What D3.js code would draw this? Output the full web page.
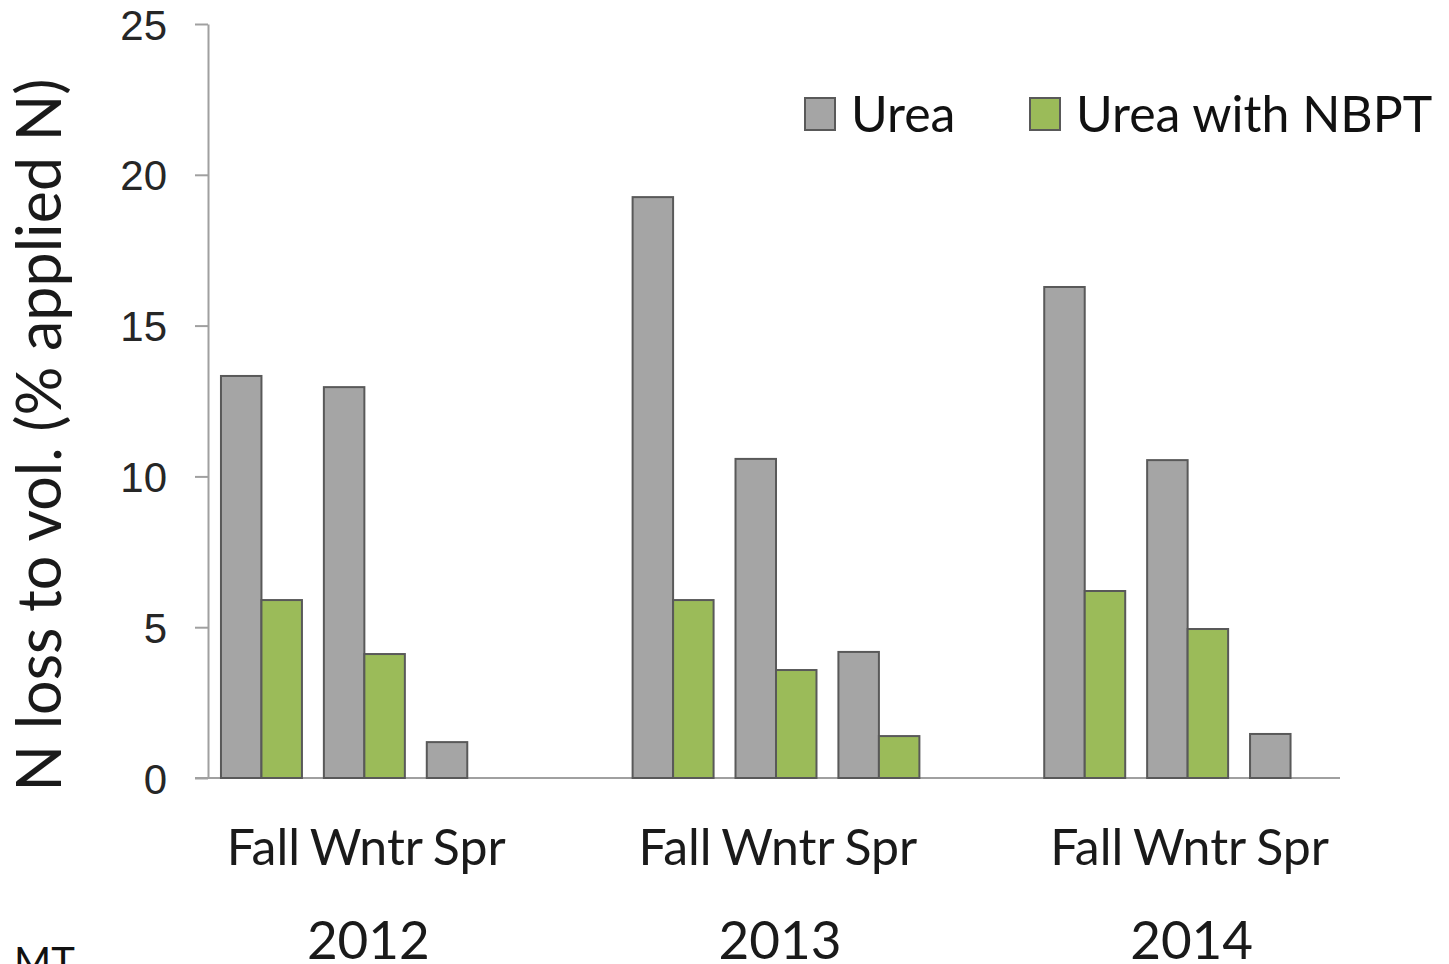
<!DOCTYPE html>
<html>
<head>
<meta charset="utf-8">
<script src="https://cdn.jsdelivr.net/npm/d3@7"></script>
<style>
  body { margin: 0; background: #fff; }
  svg { display: block; font-family: Lato, "Open Sans", sans-serif; }
</style>
</head>
<body>
<svg id="chart" width="1449" height="964"></svg>
<script>
const years = ["2012", "2013", "2014"];
const seasons = ["Fall", "Wntr", "Spr"];
const seriesNames = ["Urea", "Urea with NBPT"];
// one value per year x season, in order
const urea = [13.33, 12.96, 1.19, 19.26, 10.58, 4.18, 16.28, 10.54, 1.46];
const ureaNbpt = [5.9, 4.11, null, 5.9, 3.58, 1.39, 6.2, 4.94, null];
const yTicks = [0, 5, 10, 15, 20, 25];

const colors = ["#a5a5a5", "#9bbb59"];

const svg = d3.select("#chart");
const plotLeft = 208, plotRight = 1340, plotTop = 24, plotBottom = 778;

// slots: three seasons per year, with an empty slot between years
let slots = [];
years.forEach(function (yr, i) {
  seasons.forEach(function (s) { slots.push(yr + "-" + s); });
  if (i < years.length - 1) slots.push("gap-" + yr);
});

const x = d3.scaleBand()
  .domain(slots)
  .range([plotLeft, plotRight + 4])
  .paddingInner(0.213)
  .paddingOuter(0.126);

const xSeries = d3.scaleBand()
  .domain(seriesNames)
  .range([0, x.bandwidth()]);

const y = d3.scaleLinear().domain([0, 25]).range([plotBottom, plotTop]);

let rows = [];
years.forEach(function (yr, yi) {
  seasons.forEach(function (s, si) {
    const k = yi * seasons.length + si;
    rows.push({ slot: yr + "-" + s, series: seriesNames[0], value: urea[k], c: colors[0] });
    if (ureaNbpt[k] != null)
      rows.push({ slot: yr + "-" + s, series: seriesNames[1], value: ureaNbpt[k], c: colors[1] });
  });
});

// y axis
const yAxis = svg.append("g")
  .attr("transform", "translate(" + plotLeft + ",0)")
  .call(d3.axisLeft(y).tickValues(yTicks).tickSize(13).tickPadding(28).tickSizeOuter(0));
yAxis.select(".domain").attr("stroke", "#a0a0a0").attr("stroke-width", 2);
yAxis.selectAll(".tick line").attr("stroke", "#a0a0a0").attr("stroke-width", 2);
yAxis.selectAll(".tick text")
  .attr("fill", "#262626")
  .style("font-size", "42px")
  .attr("dy", "0.36em");

// x baseline
svg.append("line")
  .attr("x1", plotLeft - 13).attr("x2", plotRight)
  .attr("y1", y(0)).attr("y2", y(0))
  .attr("stroke", "#a0a0a0").attr("stroke-width", 2);

// bars
svg.append("g")
  .selectAll("rect")
  .data(rows)
  .join("rect")
  .attr("x", function (d) { return x(d.slot) + xSeries(d.series); })
  .attr("y", function (d) { return y(d.value); })
  .attr("width", xSeries.bandwidth())
  .attr("height", function (d) { return y(0) - y(d.value); })
  .attr("fill", function (d) { return d.c; })
  .attr("stroke", "#595959")
  .attr("stroke-width", 2);

// season labels
svg.append("g")
  .selectAll("text")
  .data(slots.filter(function (s) { return s.indexOf("gap") < 0; }))
  .join("text")
  .attr("x", function (d) { return x(d) + x.bandwidth() / 2 + 2; })
  .attr("y", 865)
  .attr("text-anchor", "middle")
  .attr("fill", "#1a1a1a")
  .style("font-size", "50px")
  .text(function (d) { return d.split("-")[1]; });

// year labels
svg.append("g")
  .selectAll("text")
  .data(years)
  .join("text")
  .attr("x", function (d) { return x(d + "-" + seasons[1]) + x.bandwidth() / 2 + 4; })
  .attr("y", 959)
  .attr("text-anchor", "middle")
  .attr("fill", "#1a1a1a")
  .style("font-size", "53px")
  .text(function (d) { return d; });

// y title
svg.append("text")
  .attr("transform", "translate(61,435) rotate(-90)")
  .attr("text-anchor", "middle")
  .attr("fill", "#1a1a1a")
  .style("font-size", "61px")
  .text("N loss to vol. (% applied N)");

// legend
const legend = svg.append("g");
const legendX = [805, 1030];
seriesNames.forEach(function (name, i) {
  legend.append("rect")
    .attr("x", legendX[i]).attr("y", 98)
    .attr("width", 30).attr("height", 32)
    .attr("fill", colors[i])
    .attr("stroke", "#595959").attr("stroke-width", 2);
  legend.append("text")
    .attr("x", legendX[i] + 46).attr("y", 132)
    .attr("fill", "#111")
    .style("font-size", "50px")
    .text(name);
});

// corner note
svg.append("text")
  .attr("x", 14).attr("y", 976)
  .attr("fill", "#111")
  .style("font-size", "40px")
  .text("MT");
</script>
</body>
</html>
